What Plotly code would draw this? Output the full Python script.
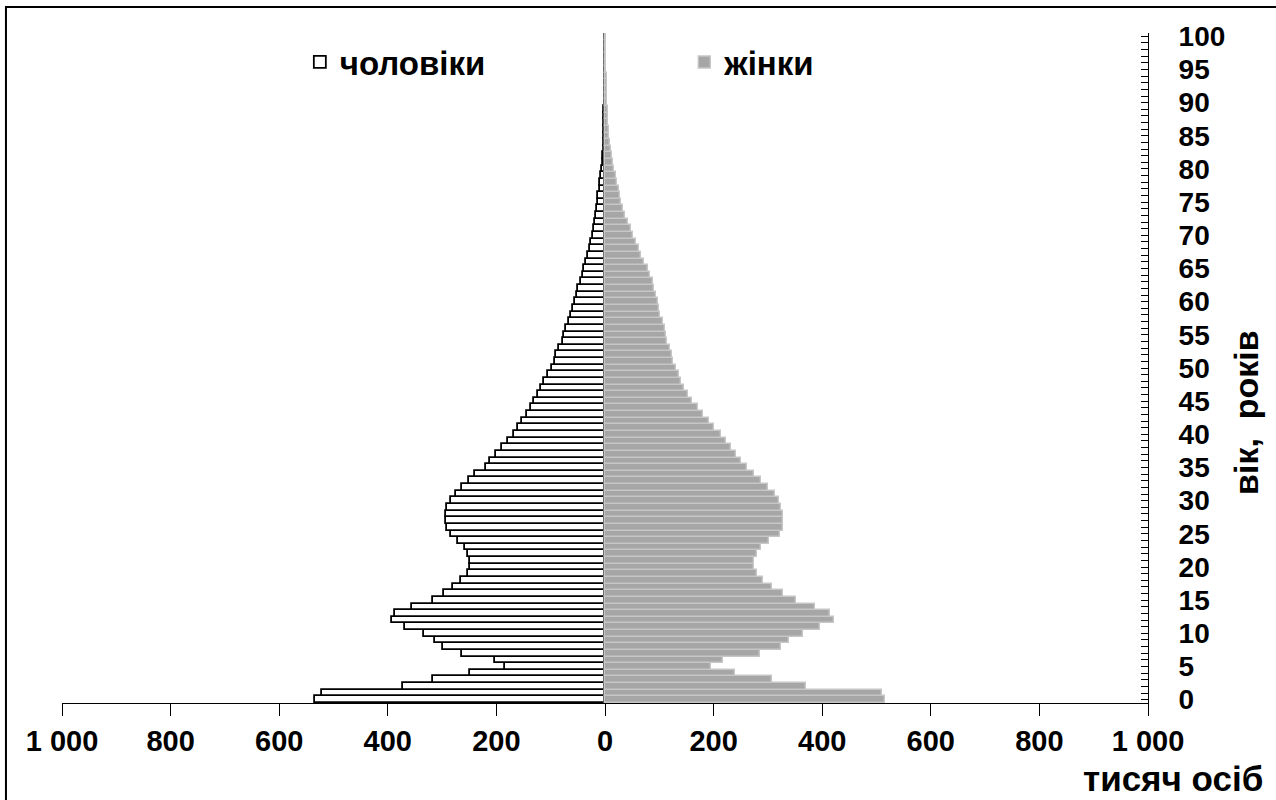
import plotly.graph_objects as go

ages = list(range(0, 101))

male = [535, 521, 372, 317, 248, 184, 202, 264, 299, 314,
        334, 368, 393, 386, 355, 317, 297, 280, 265, 253,
        248, 248, 253, 258, 270, 283, 291, 293, 293, 291,
        283, 275, 264, 251, 239, 220, 212, 201, 190, 179,
        168, 161, 152, 144, 136, 130, 124, 117, 112, 105,
        98, 93, 90, 84, 78, 75, 72, 66, 63, 59,
        56, 52, 49, 44, 41, 38, 35, 31, 27, 25,
        23, 20, 18, 17, 15, 13, 12, 10, 8.6, 7.4,
        5.5, 3.7, 3.0, 2.5, 2.0, 1.8, 1.5, 1.3, 1.1, 1.0,
        0.8, 0.7, 0.6, 0.5, 0.4, 0.35, 0.3, 0.25, 0.2, 0.15, 0.1]

female = [516, 511, 370, 308, 240, 195, 218, 285, 325, 339,
          365, 396, 422, 415, 387, 351, 328, 308, 291, 280,
          275, 275, 280, 288, 302, 322, 327, 328, 328, 324,
          320, 313, 301, 288, 275, 261, 251, 242, 232, 223,
          213, 201, 192, 181, 171, 160, 153, 146, 140, 136,
          131, 126, 123, 119, 115, 113, 110, 106, 102, 100,
          97, 94, 91, 88, 82, 79, 71, 66, 63, 57,
          52, 48, 42, 36, 33, 30, 28, 26, 23, 20,
          17, 14, 12, 11, 10, 8, 7, 6, 5, 5,
          4, 3.7, 3.4, 3.1, 2.8, 2.5, 2.2, 2.0, 1.7, 1.5, 1.3]

x_tickvals = [-1000, -800, -600, -400, -200, 0, 200, 400, 600, 800, 1000]
x_ticktext = ["1 000", "800", "600", "400", "200", "0", "200", "400", "600", "800", "1 000"]
y_ticktext = [str(a) if a % 5 == 0 else "" for a in ages]

name_male = "чоловіки"
name_female = "жінки"
x_title = "тисяч осіб"
y_title = "вік,  років"

FONT = "Liberation Sans, Arial, sans-serif"

fig = go.Figure()
fig.add_trace(go.Bar(
    y=ages, x=[-v for v in male], orientation="h", name=name_male,
    marker=dict(color="white", line=dict(color="black", width=1.8)),
    legend="legend", showlegend=True,
))
fig.add_trace(go.Bar(
    y=ages, x=female, orientation="h", name=name_female,
    marker=dict(color="#a6a6a6", line=dict(color="#c6c6c6", width=1.4)),
    legend="legend2", showlegend=True,
))

legend_font = dict(size=33, weight="bold", family=FONT, color="black")

fig.update_layout(
    width=1276, height=800,
    margin=dict(l=62, r=128, t=33, b=97),
    paper_bgcolor="white", plot_bgcolor="white",
    barmode="overlay", bargap=0,
    showlegend=True,
    font=dict(family=FONT, color="black"),
    legend=dict(x=0.219, y=0.9567, xanchor="left", yanchor="middle",
                font=legend_font, bgcolor="rgba(0,0,0,0)", itemwidth=30),
    legend2=dict(x=0.573, y=0.9567, xanchor="left", yanchor="middle",
                 font=legend_font, bgcolor="rgba(0,0,0,0)", itemwidth=30),
    xaxis=dict(range=[-1000, 1000], tickvals=x_tickvals, ticktext=x_ticktext,
               showline=True, linecolor="black", linewidth=1,
               ticks="outside", ticklen=12, tickwidth=1, tickcolor="black",
               showgrid=False, zeroline=False,
               tickfont=dict(size=29, weight="bold", family=FONT),
               ticklabelstandoff=0),
    yaxis=dict(range=[-0.5, 100.5], side="right", tickvals=ages, ticktext=y_ticktext,
               showline=True, linecolor="black", linewidth=1,
               ticks="inside", ticklen=7, tickwidth=1, tickcolor="black",
               showgrid=False, zeroline=False,
               tickfont=dict(size=28, weight="bold", family=FONT),
               ticklabelstandoff=24),
    annotations=[
        dict(text=x_title, xref="paper", yref="paper", x=1.1077, y=-0.1126,
             xanchor="right", yanchor="middle", showarrow=False,
             font=dict(size=35, weight="bold", family=FONT)),
        dict(text=y_title, xref="paper", yref="paper", x=1.0900, y=0.434,
             xanchor="center", yanchor="middle", textangle=-90, showarrow=False,
             font=dict(size=34, weight="bold", family=FONT)),
    ],
    shapes=[
        dict(type="rect", xref="paper", yref="paper",
             x0=-0.0516, y0=-0.16, x1=1.125, y1=1.0389,
             line=dict(color="black", width=2), fillcolor="rgba(0,0,0,0)"),
    ],
)

fig.write_html("out.html", config={"displayModeBar": False},
               post_script="document.body.style.margin='0px';")
